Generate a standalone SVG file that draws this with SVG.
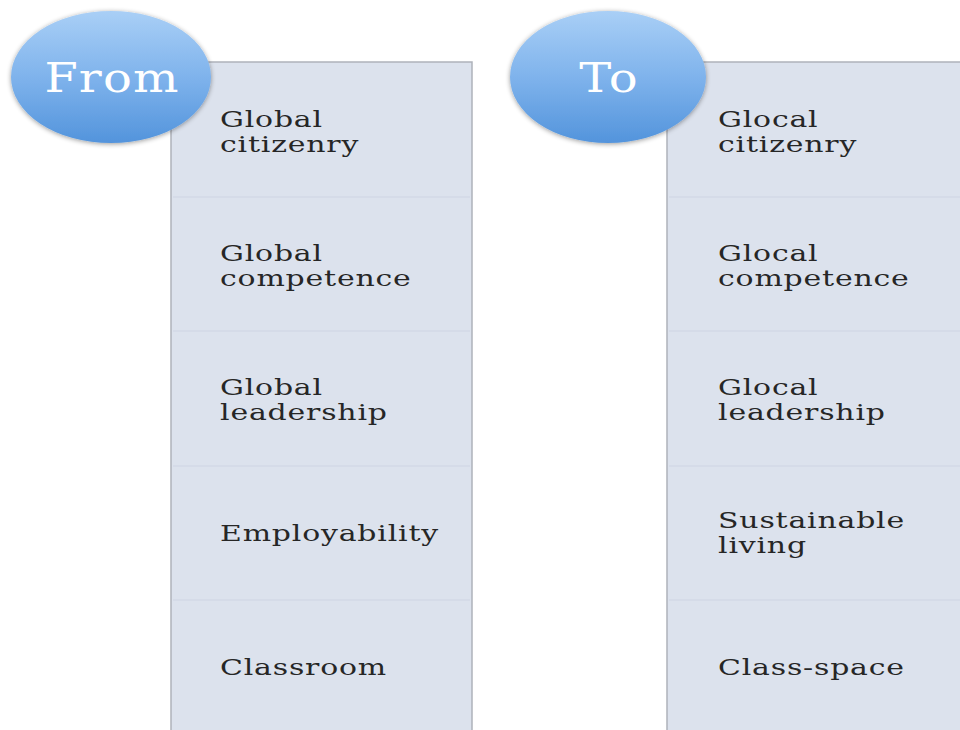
<svg xmlns="http://www.w3.org/2000/svg" width="960" height="730" viewBox="0 0 960 730">
<defs>
<linearGradient id="eg" x1="0" y1="0" x2="0" y2="1">
<stop offset="0" stop-color="#a9cff6"/>
<stop offset="0.5" stop-color="#7fb3ec"/>
<stop offset="1" stop-color="#5394dc"/>
</linearGradient>
<filter id="sh" x="-20%" y="-20%" width="140%" height="140%">
<feGaussianBlur in="SourceAlpha" stdDeviation="2.5"/>
<feOffset dx="0" dy="1"/>
<feComponentTransfer><feFuncA type="linear" slope="0.4"/></feComponentTransfer>
<feMerge><feMergeNode/><feMergeNode in="SourceGraphic"/></feMerge>
</filter>
</defs>
<style>
.panel{fill:#dce2ed;stroke:#aeb2ba;stroke-width:1.5}
.sep{stroke:#d3d9e6;stroke-width:1.5}
.item{font-family:"DejaVu Serif","Liberation Serif",serif;font-size:22px;fill:#262626;letter-spacing:0.6px}
.head{font-family:"DejaVu Serif","Liberation Serif",serif;font-size:41px;fill:#ffffff;letter-spacing:1px}
.oval{fill:url(#eg);filter:url(#sh)}
</style>
<rect width="960" height="730" fill="#ffffff"/>
<g id="from-panel">
<rect class="panel" x="171" y="62" width="301" height="680"/>
<line class="sep" x1="173" y1="197" x2="470" y2="197"/>
<line class="sep" x1="173" y1="331" x2="470" y2="331"/>
<line class="sep" x1="173" y1="466" x2="470" y2="466"/>
<line class="sep" x1="173" y1="600" x2="470" y2="600"/>
</g>
<g id="to-panel">
<rect class="panel" x="667" y="62" width="310" height="680"/>
<line class="sep" x1="669" y1="197" x2="960" y2="197"/>
<line class="sep" x1="669" y1="331" x2="960" y2="331"/>
<line class="sep" x1="669" y1="466" x2="960" y2="466"/>
<line class="sep" x1="669" y1="600" x2="960" y2="600"/>
</g>
<g id="from-items" transform="translate(220,0) scale(1.36,1)">
<text class="item" x="0" y="127">Global</text>
<text class="item" x="0" y="152">citizenry</text>
<text class="item" x="0" y="261">Global</text>
<text class="item" x="0" y="286">competence</text>
<text class="item" x="0" y="395">Global</text>
<text class="item" x="0" y="420">leadership</text>
<text class="item" x="0" y="541">Employability</text>
<text class="item" x="0" y="675">Classroom</text>
</g>
<g id="to-items" transform="translate(718,0) scale(1.36,1)">
<text class="item" x="0" y="127">Glocal</text>
<text class="item" x="0" y="152">citizenry</text>
<text class="item" x="0" y="261">Glocal</text>
<text class="item" x="0" y="286">competence</text>
<text class="item" x="0" y="395">Glocal</text>
<text class="item" x="0" y="420">leadership</text>
<text class="item" x="0" y="528">Sustainable</text>
<text class="item" x="0" y="553">living</text>
<text class="item" x="0" y="675">Class-space</text>
</g>
<g id="from-node">
<ellipse class="oval" cx="111" cy="77" rx="100" ry="66"/>
<text class="head" transform="translate(112,92) scale(1.17,1)" text-anchor="middle">From</text>
</g>
<g id="to-node">
<ellipse class="oval" cx="608" cy="77" rx="98" ry="66"/>
<text class="head" transform="translate(609,92) scale(1.17,1)" text-anchor="middle">To</text>
</g>
</svg>
